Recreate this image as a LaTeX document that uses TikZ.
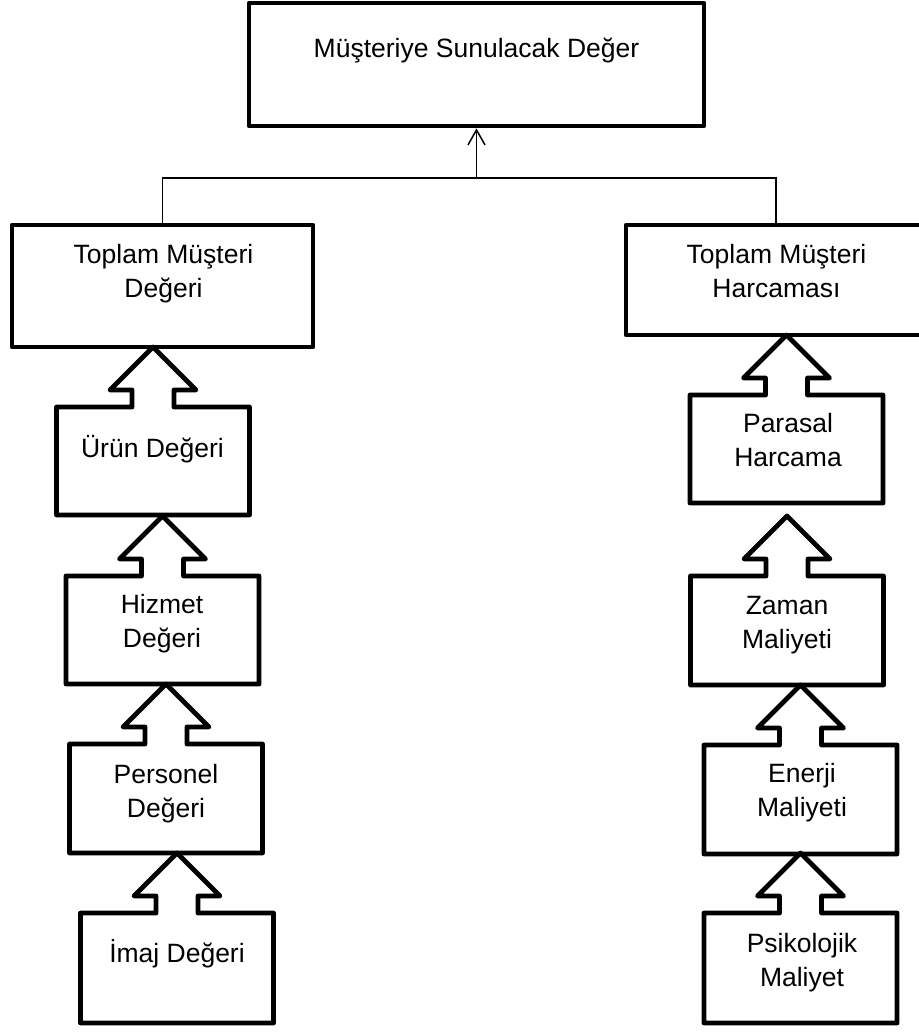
\documentclass[tikz,border=0pt]{standalone}
\usepackage{fontspec}
\setmainfont{Liberation Sans}
\usetikzlibrary{arrows.meta}

% box with an upward arrow tab on top: #1 centre x, #2 top edge, #3 bottom edge
\newcommand{\tabshape}[3]{%
  \draw[boxline]
    ({#1-96.5},#2) -- ({#1-21},#2) -- ({#1-21},{#2-17}) -- ({#1-43},{#2-17})
    -- (#1,{#2-60}) -- ({#1+43},{#2-17}) -- ({#1+21},{#2-17}) -- ({#1+21},#2)
    -- ({#1+96.5},#2) -- ({#1+96.5},#3) -- ({#1-96.5},#3) -- cycle;}

\begin{document}
\begin{tikzpicture}[x=1pt,y=-1pt,
  boxline/.style={line width=4.8pt,line join=round},
  linkline/.style={line width=1.5pt},
  bigbox/.style={boxline,draw,rectangle,inner sep=0pt},
  % labels are placed by the baseline of their last line
  lbl/.style={font=\fontsize{26.5}{34}\selectfont,align=center,anchor=base,inner sep=0pt}]

\fill[white] (0,0) rectangle (918,1032);
\useasboundingbox (0,0) rectangle (918,1032);

% top level
\node[bigbox,minimum width=455pt,minimum height=123pt] (goal) at (476.5,64.5) {};
\node[lbl] (goalText) at (476.5,58) {Müşteriye Sunulacak Değer};

% second level
\node[bigbox,minimum width=301pt,minimum height=122pt] (value) at (162.5,286) {};
\node[lbl] (valueText) at (163.5,297) {Toplam Müşteri\\Değeri};
\node[bigbox,minimum width=300pt,minimum height=110pt] (cost) at (776,280) {};
\node[lbl] (costText) at (776.5,297) {Toplam Müşteri\\Harcaması};

% connectors
\coordinate (junction) at (476.5,178);
\draw[linkline] (value.north) |- (junction) -| (cost.north);
\draw[linkline,-{Straight Barb[length=15pt 0,width=17pt 0]}] (junction) -- (goal.south);

% value components
\tabshape{153}{407}{515}
\node[lbl] (product) at (152.5,457) {Ürün Değeri};
\tabshape{162.5}{576}{684}
\node[lbl] (service) at (162,647) {Hizmet\\Değeri};
\tabshape{166}{744}{853}
\node[lbl] (staff) at (166,817) {Personel\\Değeri};
\tabshape{177}{913}{1023}
\node[lbl] (image) at (177,962) {İmaj Değeri};

% cost components
\tabshape{786.5}{395}{503}
\node[lbl] (money) at (788,466) {Parasal\\Harcama};
\tabshape{787}{576}{685}
\node[lbl] (time) at (787,648) {Zaman\\Maliyeti};
\tabshape{800.5}{745}{854}
\node[lbl] (energy) at (802,816) {Enerji\\Maliyeti};
\tabshape{800.5}{913}{1023}
\node[lbl] (psych) at (802,986) {Psikolojik\\Maliyet};

\end{tikzpicture}
\end{document}
